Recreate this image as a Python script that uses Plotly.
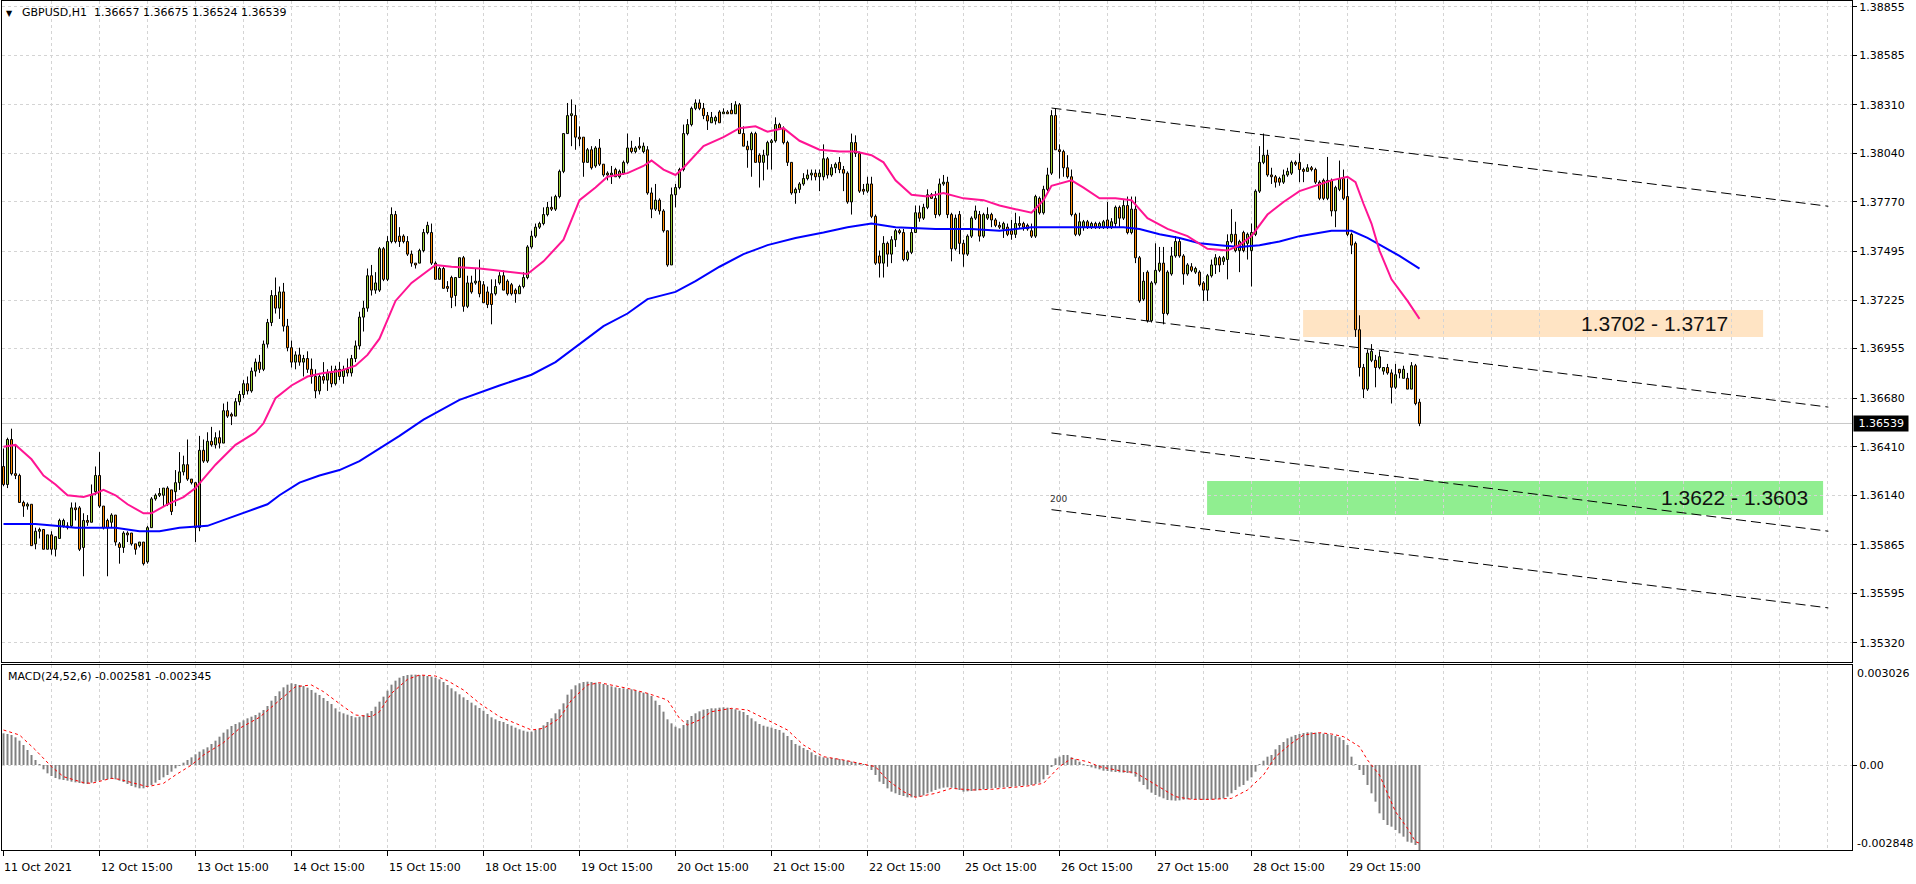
import plotly.graph_objects as go

# ---------------- data ----------------
opens = [
1.3630,1.3620,1.3645,1.3626,1.3625,1.3610,1.3608,1.3609,1.3587,1.3594,
1.3595,1.3584,1.3592,1.3584,1.3590,1.3597,1.3597,1.3597,1.3607,1.3607,
1.3585,1.3600,1.3599,1.3616,1.3625,1.3608,1.3600,1.3599,1.3603,1.3587,
1.3585,1.3593,1.3593,1.3587,1.3586,1.3588,1.3577,1.3596,1.3612,1.3614,
1.3614,1.3618,1.3617,1.3616,1.3621,1.3627,1.3631,1.3623,1.3621,1.3596,
1.3639,1.3633,1.3644,1.3642,1.3646,1.3643,1.3661,1.3659,1.3658,1.3666,
1.3670,1.3676,1.3672,1.3683,1.3688,1.3684,1.3698,1.3710,1.3725,1.3718,
1.3727,1.3708,1.3696,1.3688,1.3692,1.3688,1.3690,1.3684,1.3680,1.3672,
1.3680,1.3678,1.3682,1.3676,1.3684,1.3680,1.3684,1.3682,1.3690,1.3697,
1.3713,1.3718,1.3736,1.3728,1.3728,1.3751,1.3734,1.3755,1.3770,1.3758,
1.3758,1.3755,1.3748,1.3743,1.3743,1.3750,1.3760,1.3760,1.3743,1.3734,
1.3740,1.3730,1.3735,1.3725,1.3735,1.3746,1.3719,1.3732,1.3732,1.3733,
1.3731,1.3727,1.3726,1.3726,1.3732,1.3736,1.3733,1.3731,1.3728,1.3726,
1.3730,1.3735,1.3752,1.3758,1.3763,1.3765,1.3770,1.3774,1.3773,1.3780,
1.3794,1.3815,1.3825,1.3825,1.3813,1.3813,1.3799,1.3806,1.3797,1.3807,
1.3798,1.3793,1.3792,1.3795,1.3791,1.3793,1.3799,1.3807,1.3805,1.3808,
1.3805,1.3806,1.3782,1.3773,1.3778,1.3772,1.3761,1.3742,1.3781,1.3785,
1.3795,1.3815,1.3820,1.3829,1.3832,1.3829,1.3825,1.3821,1.3822,1.3827,
1.3826,1.3827,1.3828,1.3826,1.3831,1.3815,1.3808,1.3806,1.3815,1.3803,
1.3799,1.3803,1.3810,1.3811,1.3820,1.3818,1.3810,1.3799,1.3782,1.3784,
1.3787,1.3790,1.3792,1.3793,1.3791,1.3791,1.3801,1.3792,1.3796,1.3799,
1.3795,1.3793,1.3777,1.3810,1.3804,1.3784,1.3783,1.3787,1.3769,1.3747,
1.3743,1.3754,1.3748,1.3756,1.3761,1.3760,1.3745,1.3749,1.3760,1.3771,
1.3768,1.3774,1.3781,1.3779,1.3770,1.3787,1.3788,1.3770,1.3751,1.3770,
1.3754,1.3748,1.3758,1.3768,1.3770,1.3758,1.3768,1.3770,1.3767,1.3764,
1.3762,1.3763,1.3761,1.3759,1.3765,1.3765,1.3764,1.3761,1.3758,1.3779,
1.3771,1.3784,1.3793,1.3825,1.3806,1.3805,1.3796,1.3791,1.3770,1.3759,
1.3763,1.3766,1.3763,1.3765,1.3763,1.3763,1.3767,1.3763,1.3765,1.3774,
1.3768,1.3775,1.3760,1.3773,1.3746,1.3723,1.3738,1.3711,1.3732,1.3739,
1.3743,1.3715,1.3737,1.3747,1.3755,1.3747,1.3737,1.3741,1.3738,1.3738,
1.3732,1.3728,1.3736,1.3742,1.3746,1.3744,1.3745,1.3755,1.3759,1.3750,
1.3760,1.3754,1.3750,1.3759,1.3783,1.3799,1.3803,1.3792,1.3791,1.3790,
1.3788,1.3792,1.3793,1.3799,1.3799,1.3795,1.3794,1.3796,1.3795,1.3788,
1.3789,1.3779,1.3789,1.3772,1.3784,1.3790,1.3780,1.3759,1.3754,1.3706,
1.3685,1.3673,1.3689,1.3689,1.3685,1.3683,1.3685,1.3682,1.3674,1.3684,
1.3679,1.3679,1.3673,1.3686,1.36657]

highs = [
1.3640,1.3646,1.3651,1.3642,1.3626,1.3611,1.3610,1.3609,1.3596,1.3596,
1.3595,1.3592,1.3594,1.3591,1.3601,1.3601,1.3599,1.3610,1.3610,1.3608,
1.3604,1.3603,1.3620,1.3630,1.3638,1.3608,1.3601,1.3604,1.3603,1.3588,
1.3594,1.3594,1.3593,1.3587,1.3588,1.3588,1.3597,1.3613,1.3615,1.3618,
1.3618,1.3619,1.3617,1.3628,1.3638,1.3636,1.3645,1.3623,1.3621,1.3647,
1.3645,1.3649,1.3652,1.3649,1.3650,1.3665,1.3666,1.3660,1.3668,1.3672,
1.3678,1.3680,1.3685,1.3690,1.3692,1.3700,1.3712,1.3728,1.3735,1.3730,
1.3732,1.3712,1.3700,1.3694,1.3696,1.3692,1.3694,1.3690,1.3684,1.3682,
1.3688,1.3684,1.3686,1.3686,1.3688,1.3686,1.3690,1.3692,1.3700,1.3716,
1.3722,1.3740,1.3742,1.3738,1.3752,1.3752,1.3758,1.3774,1.3772,1.3763,
1.3759,1.3758,1.3750,1.3743,1.3751,1.3762,1.3766,1.3765,1.3744,1.3741,
1.3741,1.3733,1.3736,1.3735,1.3746,1.3747,1.3736,1.3736,1.3740,1.3745,
1.3733,1.3730,1.3734,1.3734,1.3738,1.3739,1.3734,1.3732,1.3729,1.3731,
1.3738,1.3753,1.3761,1.3765,1.3766,1.3774,1.3777,1.3780,1.3781,1.3795,
1.3815,1.3832,1.3834,1.3831,1.3819,1.3813,1.3807,1.3808,1.3808,1.3812,
1.3798,1.3794,1.3797,1.3796,1.3795,1.3800,1.3815,1.3811,1.3808,1.3813,
1.3810,1.3808,1.3785,1.3787,1.3779,1.3773,1.3761,1.3785,1.3787,1.3796,
1.3820,1.3823,1.3830,1.3834,1.3834,1.3832,1.3827,1.3827,1.3825,1.3828,
1.3829,1.3828,1.3832,1.3833,1.3832,1.3819,1.3811,1.3816,1.3816,1.3804,
1.3806,1.3811,1.3812,1.3824,1.3821,1.3819,1.3811,1.3799,1.3785,1.3788,
1.3793,1.3795,1.3795,1.3795,1.3795,1.3809,1.3802,1.3798,1.3799,1.3802,
1.3797,1.3794,1.3815,1.3814,1.3805,1.3787,1.3791,1.3791,1.3770,1.3750,
1.3758,1.3755,1.3758,1.3762,1.3762,1.3762,1.3750,1.3763,1.3775,1.3775,
1.3776,1.3784,1.3782,1.3783,1.3790,1.3792,1.3791,1.3771,1.3770,1.3772,
1.3756,1.3759,1.3769,1.3775,1.3772,1.3771,1.3774,1.3771,1.3768,1.3766,
1.3766,1.3765,1.3767,1.3771,1.3769,1.3766,1.3765,1.3765,1.3781,1.3780,
1.3786,1.3796,1.3828,1.3829,1.3809,1.3806,1.3803,1.3795,1.3771,1.3771,
1.3767,1.3767,1.3766,1.3766,1.3766,1.3767,1.3777,1.3768,1.3775,1.3775,
1.3778,1.3780,1.3780,1.3780,1.3747,1.3738,1.3739,1.3733,1.3754,1.3752,
1.3752,1.3739,1.3752,1.3758,1.3757,1.3748,1.3743,1.3743,1.3741,1.3739,
1.3733,1.3737,1.3745,1.3748,1.3747,1.3747,1.3759,1.3773,1.3766,1.3756,
1.3761,1.3760,1.3765,1.3784,1.3808,1.3815,1.3806,1.3796,1.3792,1.3791,
1.3795,1.3796,1.3800,1.3800,1.3804,1.3796,1.3798,1.3797,1.3796,1.3789,
1.3790,1.3802,1.3790,1.3786,1.3800,1.3795,1.3790,1.3760,1.3755,1.3714,
1.3687,1.3695,1.3698,1.3692,1.3694,1.3685,1.3687,1.3684,1.3687,1.3684,
1.3686,1.3682,1.3688,1.3687,1.36675]

lows = [
1.3619,1.3618,1.3625,1.3623,1.3610,1.3602,1.3606,1.3586,1.3584,1.3590,
1.3584,1.3584,1.3581,1.3580,1.3590,1.3596,1.3595,1.3596,1.3600,1.3583,
1.3569,1.3597,1.3599,1.3614,1.3607,1.3595,1.3569,1.3596,1.3586,1.3576,
1.3582,1.3588,1.3586,1.3581,1.3585,1.3575,1.3576,1.3596,1.3611,1.3613,
1.3608,1.3608,1.3603,1.3608,1.3617,1.3625,1.3622,1.3620,1.3588,1.3594,
1.3632,1.3632,1.3641,1.3640,1.3640,1.3643,1.3657,1.3653,1.3658,1.3664,
1.3668,1.3670,1.3671,1.3680,1.3682,1.3683,1.3696,1.3708,1.3715,1.3712,
1.3705,1.3694,1.3685,1.3684,1.3686,1.3680,1.3682,1.3676,1.3668,1.3670,
1.3676,1.3672,1.3674,1.3675,1.3678,1.3676,1.3680,1.3680,1.3688,1.3695,
1.3705,1.3716,1.3725,1.3726,1.3727,1.3733,1.3733,1.3754,1.3754,1.3752,
1.3754,1.3747,1.3741,1.3740,1.3743,1.3749,1.3759,1.3742,1.3734,1.3734,
1.3729,1.3727,1.3718,1.3719,1.3735,1.3716,1.3718,1.3726,1.3731,1.3724,
1.3721,1.3718,1.3709,1.3725,1.3731,1.3728,1.3725,1.3725,1.3721,1.3726,
1.3729,1.3734,1.3751,1.3757,1.3762,1.3764,1.3769,1.3772,1.3772,1.3779,
1.3793,1.3815,1.3808,1.3806,1.3808,1.3791,1.3799,1.3795,1.3796,1.3797,
1.3791,1.3789,1.3787,1.3791,1.3790,1.3792,1.3798,1.3804,1.3804,1.3806,
1.3804,1.3781,1.3768,1.3772,1.3770,1.3760,1.3741,1.3742,1.3774,1.3784,
1.3794,1.3814,1.3819,1.3828,1.3828,1.3823,1.3817,1.3821,1.3820,1.3821,
1.3826,1.3826,1.3826,1.3826,1.3815,1.3808,1.3796,1.3791,1.3799,1.3785,
1.3789,1.3795,1.3795,1.3810,1.3817,1.3809,1.3797,1.3781,1.3776,1.3782,
1.3786,1.3789,1.3789,1.3789,1.3783,1.3789,1.3790,1.3791,1.3793,1.3793,
1.3783,1.3776,1.3770,1.3802,1.3782,1.3781,1.3782,1.3768,1.3742,1.3735,
1.3735,1.3741,1.3743,1.3752,1.3759,1.3744,1.3744,1.3748,1.3760,1.3766,
1.3767,1.3773,1.3779,1.3768,1.3769,1.3786,1.3768,1.3744,1.3750,1.3748,
1.3741,1.3747,1.3757,1.3767,1.3755,1.3757,1.3767,1.3763,1.3763,1.3762,
1.3757,1.3758,1.3756,1.3757,1.3762,1.3761,1.3761,1.3757,1.3757,1.3770,
1.3770,1.3783,1.3792,1.3806,1.3790,1.3791,1.3790,1.3769,1.3758,1.3758,
1.3761,1.3762,1.3762,1.3762,1.3762,1.3762,1.3762,1.3762,1.3763,1.3763,
1.3767,1.3759,1.3759,1.3743,1.3721,1.3722,1.3710,1.3710,1.3731,1.3738,
1.3709,1.3714,1.3736,1.3746,1.3746,1.3731,1.3736,1.3738,1.3737,1.3730,
1.3722,1.3722,1.3735,1.3737,1.3738,1.3742,1.3734,1.3754,1.3749,1.3738,
1.3749,1.3745,1.3730,1.3758,1.3782,1.3798,1.3791,1.3787,1.3785,1.3786,
1.3787,1.3791,1.3792,1.3797,1.3788,1.3788,1.3794,1.3794,1.3787,1.3778,
1.3778,1.3778,1.3769,1.3763,1.3783,1.3778,1.3758,1.3748,1.3702,1.3680,
1.3668,1.3672,1.3688,1.3674,1.3684,1.3681,1.3681,1.3665,1.3673,1.3679,
1.3679,1.3673,1.3673,1.3664,1.36524]

closes = [
1.3620,1.3645,1.3626,1.3625,1.3610,1.3608,1.3609,1.3586,1.3594,1.3595,
1.3584,1.3592,1.3584,1.3591,1.3600,1.3600,1.3596,1.3607,1.3606,1.3584,
1.3600,1.3599,1.3614,1.3625,1.3608,1.3596,1.3596,1.3603,1.3588,1.3585,
1.3593,1.3592,1.3587,1.3584,1.3588,1.3576,1.3596,1.3612,1.3614,1.3615,
1.3618,1.3609,1.3605,1.3621,1.3627,1.3631,1.3623,1.3621,1.3596,1.3639,
1.3633,1.3644,1.3642,1.3646,1.3643,1.3661,1.3658,1.3658,1.3666,1.3670,
1.3676,1.3672,1.3683,1.3688,1.3684,1.3698,1.3710,1.3725,1.3718,1.3727,
1.3708,1.3696,1.3688,1.3692,1.3688,1.3690,1.3684,1.3680,1.3672,1.3680,
1.3678,1.3682,1.3676,1.3684,1.3680,1.3684,1.3682,1.3690,1.3697,1.3713,
1.3718,1.3736,1.3728,1.3732,1.3751,1.3734,1.3755,1.3770,1.3755,1.3755,
1.3755,1.3748,1.3743,1.3742,1.3750,1.3760,1.3764,1.3743,1.3734,1.3740,
1.3729,1.3729,1.3724,1.3735,1.3746,1.3719,1.3732,1.3727,1.3733,1.3726,
1.3721,1.3720,1.3720,1.3730,1.3736,1.3728,1.3726,1.3726,1.3726,1.3730,
1.3735,1.3752,1.3758,1.3763,1.3765,1.3770,1.3774,1.3773,1.3780,1.3794,
1.3815,1.3825,1.3826,1.3813,1.3812,1.3799,1.3806,1.3796,1.3807,1.3798,
1.3792,1.3792,1.3793,1.3791,1.3794,1.3799,1.3807,1.3805,1.3807,1.3807,
1.3808,1.3782,1.3773,1.3778,1.3772,1.3761,1.3742,1.3781,1.3785,1.3795,
1.3815,1.3820,1.3829,1.3832,1.3829,1.3825,1.3822,1.3824,1.3824,1.3821,
1.3827,1.3826,1.3826,1.3831,1.3815,1.3808,1.3806,1.3815,1.3799,1.3799,
1.3803,1.3810,1.3811,1.3820,1.3818,1.3810,1.3799,1.3782,1.3784,1.3787,
1.3790,1.3792,1.3793,1.3791,1.3793,1.3801,1.3792,1.3796,1.3798,1.3795,
1.3793,1.3777,1.3810,1.3804,1.3783,1.3783,1.3787,1.3769,1.3743,1.3743,
1.3754,1.3748,1.3756,1.3761,1.3760,1.3745,1.3749,1.3760,1.3771,1.3768,
1.3774,1.3781,1.3779,1.3770,1.3787,1.3788,1.3770,1.3751,1.3768,1.3754,
1.3748,1.3758,1.3768,1.3772,1.3758,1.3770,1.3770,1.3767,1.3764,1.3763,
1.3765,1.3759,1.3759,1.3765,1.3764,1.3763,1.3762,1.3758,1.3780,1.3771,
1.3784,1.3792,1.3825,1.3806,1.3805,1.3796,1.3791,1.3770,1.3759,1.3766,
1.3766,1.3763,1.3765,1.3763,1.3765,1.3766,1.3763,1.3766,1.3774,1.3768,
1.3775,1.3760,1.3773,1.3746,1.3722,1.3733,1.3711,1.3732,1.3739,1.3743,
1.3715,1.3738,1.3747,1.3755,1.3747,1.3737,1.3742,1.3739,1.3740,1.3731,
1.3728,1.3736,1.3742,1.3746,1.3742,1.3746,1.3755,1.3759,1.3750,1.3755,
1.3750,1.3759,1.3760,1.3783,1.3799,1.3803,1.3792,1.3791,1.3788,1.3788,
1.3792,1.3794,1.3799,1.3798,1.3795,1.3794,1.3796,1.3795,1.3788,1.3779,
1.3779,1.3789,1.3772,1.3785,1.3790,1.3779,1.3759,1.3753,1.3706,1.3685,
1.3673,1.3693,1.3694,1.3685,1.3691,1.3685,1.3682,1.3674,1.3681,1.3682,
1.3684,1.3673,1.3686,1.3665,1.36539]

# pink fast moving average, read at sample bars
ma_fast_x = [0,3,4,7,10,13,16,20,23,25,28,31,35,37,41,45,48,50,53,58,63,65,68,72,76,80,84,88,91,94,
             98,102,108,112,119,123,127,131,135,140,144,148,151,156,160,162,165,168,170,175,180,184,188,191,195,
             199,204,209,213,217,220,223,227,231,235,240,245,249,253,257,260,262,267,270,274,278,282,286,291,296,
             301,306,309,312,316,320,324,329,332,336,338,340,342,344,347,351,354]
ma_fast_y = [1.3641,1.3642,1.3640,1.3634,1.3625,1.3620,1.3614,1.3613,1.3615,1.3617,1.3614,1.3609,1.3604,1.3604,1.3609,
             1.3613,1.3618,1.3623,1.3631,1.3642,1.3649,1.3654,1.3668,1.3675,1.3680,1.3682,1.3683,1.3686,1.3692,1.3701,
             1.3722,1.3732,1.3742,1.3741,1.3740,1.3739,1.3738,1.3737,1.3744,1.3756,1.3778,1.3785,1.3791,1.3793,1.3797,
             1.3800,1.3795,1.3792,1.3796,1.3808,1.3813,1.3818,1.3819,1.3816,1.3818,1.3811,1.3806,1.3805,1.3805,1.3803,
             1.3799,1.3789,1.3781,1.3780,1.3782,1.3779,1.3778,1.3775,1.3773,1.3771,1.3778,1.3786,1.3789,1.3785,1.3779,
             1.3779,1.3778,1.3768,1.3762,1.3758,1.3751,1.3750,1.3753,1.3758,1.3770,1.3777,1.3783,1.3787,1.3789,1.3791,
             1.3788,1.3776,1.3765,1.3750,1.3734,1.3722,1.3712]

# blue slow moving average, read at sample bars
ma_slow_x = [0,3,8,13,18,24,28,34,39,44,51,56,61,66,69,74,79,84,89,94,99,105,114,124,132,138,144,150,156,161,
             168,173,179,185,191,198,205,211,217,223,233,242,249,257,264,270,280,284,289,294,299,304,309,314,319,
             324,329,332,337,341,345,349,354]
ma_slow_y = [1.3598,1.3598,1.3598,1.3597,1.3596,1.3596,1.3596,1.3594,1.3594,1.3596,1.3597,1.3601,1.3605,1.3609,1.3614,
             1.3621,1.3625,1.3628,1.3633,1.3640,1.3647,1.3656,1.3667,1.3675,1.3681,1.3688,1.3698,1.3708,1.3715,1.3723,
             1.3727,1.3733,1.3741,1.3748,1.3753,1.3757,1.3760,1.3763,1.3765,1.3763,1.3762,1.3762,1.3761,1.3763,1.3763,
             1.3763,1.3763,1.3762,1.3759,1.3757,1.3754,1.3753,1.3752,1.3753,1.3755,1.3758,1.3760,1.3761,1.3761,1.3757,
             1.3752,1.3747,1.3740]

# MACD(24,52,6) main histogram, one value per bar
macd_main = [
0.00095,0.00093,0.00090,0.00083,0.00073,0.00060,0.00045,0.00030,0.00015,0.00001,
-0.00013,-0.00025,-0.00033,-0.00039,-0.00043,-0.00045,-0.00047,-0.00050,-0.00052,-0.00054,
-0.00056,-0.00057,-0.00053,-0.00050,-0.00047,-0.00045,-0.00043,-0.00042,-0.00043,-0.00047,
-0.00051,-0.00057,-0.00063,-0.00067,-0.00070,-0.00070,-0.00065,-0.00060,-0.00053,-0.00045,
-0.00037,-0.00030,-0.00020,-0.00010,-0.00003,0.00007,0.00015,0.00023,0.00032,0.00040,
0.00047,0.00053,0.00063,0.00073,0.00085,0.00097,0.00107,0.00117,0.00123,0.00128,
0.00134,0.00140,0.00145,0.00150,0.00157,0.00165,0.00177,0.00193,0.00207,0.00221,
0.00233,0.00241,0.00245,0.00243,0.00240,0.00237,0.00232,0.00225,0.00217,0.00210,
0.00201,0.00192,0.00183,0.00170,0.00160,0.00155,0.00151,0.00147,0.00143,0.00145,
0.00149,0.00155,0.00162,0.00175,0.00190,0.00205,0.00223,0.00241,0.00253,0.00262,
0.00267,0.00270,0.00271,0.00271,0.00270,0.00269,0.00267,0.00265,0.00262,0.00257,
0.00249,0.00240,0.00230,0.00221,0.00212,0.00203,0.00195,0.00187,0.00179,0.00171,
0.00163,0.00153,0.00143,0.00137,0.00132,0.00129,0.00123,0.00118,0.00112,0.00107,
0.00103,0.00100,0.00100,0.00105,0.00110,0.00119,0.00129,0.00140,0.00155,0.00167,
0.00185,0.00211,0.00227,0.00239,0.00245,0.00249,0.00250,0.00249,0.00247,0.00245,
0.00243,0.00240,0.00236,0.00233,0.00231,0.00230,0.00228,0.00227,0.00224,0.00220,
0.00217,0.00215,0.00207,0.00193,0.00180,0.00160,0.00137,0.00125,0.00115,0.00110,
0.00120,0.00135,0.00147,0.00155,0.00161,0.00166,0.00168,0.00170,0.00170,0.00172,
0.00173,0.00172,0.00170,0.00167,0.00163,0.00159,0.00150,0.00140,0.00131,0.00123,
0.00118,0.00115,0.00112,0.00108,0.00105,0.00097,0.00087,0.00075,0.00063,0.00058,
0.00051,0.00045,0.00038,0.00030,0.00026,0.00023,0.00022,0.00021,0.00020,0.00018,
0.00015,0.00013,0.00010,0.00009,0.00006,0.00003,-0.00003,-0.00015,-0.00030,-0.00050,
-0.00057,-0.00070,-0.00080,-0.00085,-0.00090,-0.00093,-0.00097,-0.00097,-0.00096,-0.00095,
-0.00091,-0.00085,-0.00080,-0.00075,-0.00071,-0.00068,-0.00067,-0.00068,-0.00071,-0.00075,
-0.00080,-0.00079,-0.00078,-0.00077,-0.00075,-0.00073,-0.00072,-0.00070,-0.00069,-0.00068,
-0.00067,-0.00066,-0.00065,-0.00064,-0.00063,-0.00062,-0.00061,-0.00060,-0.00057,-0.00053,
-0.00043,-0.00030,-0.00005,0.00020,0.00025,0.00030,0.00030,0.00023,0.00017,0.00010,
0.00003,-0.00003,-0.00007,-0.00010,-0.00013,-0.00017,-0.00018,-0.00020,-0.00021,-0.00022,
-0.00023,-0.00024,-0.00025,-0.00035,-0.00050,-0.00060,-0.00073,-0.00083,-0.00090,-0.00095,
-0.00100,-0.00105,-0.00106,-0.00107,-0.00106,-0.00104,-0.00103,-0.00103,-0.00103,-0.00104,
-0.00105,-0.00105,-0.00104,-0.00103,-0.00102,-0.00100,-0.00095,-0.00085,-0.00075,-0.00065,
-0.00060,-0.00047,-0.00037,-0.00020,0.00001,0.00013,0.00025,0.00030,0.00047,0.00060,
0.00069,0.00080,0.00085,0.00090,0.00093,0.00096,0.00098,0.00098,0.00097,0.00096,
0.00094,0.00093,0.00090,0.00087,0.00083,0.00075,0.00060,0.00025,0.00001,-0.00015,
-0.00030,-0.00060,-0.00085,-0.00110,-0.00145,-0.00165,-0.00180,-0.00185,-0.00195,-0.00205,
-0.00215,-0.00230,-0.00233,-0.00240,-0.002581]

# MACD signal line, read at sample bars
sig_x = [0,4,8,12,15,20,22,27,29,34,36,40,43,47,50,55,59,64,68,73,77,80,85,88,92,94,97,101,104,108,
         111,115,119,124,129,132,135,139,142,146,149,153,156,161,166,169,171,174,177,182,186,191,196,200,205,
         210,214,218,221,225,228,233,237,242,247,251,256,260,264,267,271,274,279,283,288,293,297,302,307,311,
         315,318,322,325,329,332,335,339,341,344,346,348,351,353,354]
sig_y = [0.00105,0.00090,0.00045,-0.00005,-0.00035,-0.00053,-0.00055,-0.00040,-0.00043,-0.00060,
         -0.00065,-0.00055,-0.00030,0.0,0.00030,0.00067,0.00110,0.00143,0.00185,0.00235,
         0.00240,0.00220,0.00175,0.00150,0.00145,0.00160,0.00215,0.00257,0.00270,0.00267,
         0.00253,0.00225,0.00185,0.00145,0.00120,0.00105,0.00110,0.00140,0.00195,0.00240,
         0.00247,0.00237,0.00230,0.00215,0.00195,0.00140,0.00120,0.00135,0.00160,0.00170,
         0.00165,0.00135,0.00105,0.00060,0.00025,0.00015,0.00005,-0.00005,-0.00045,-0.00080,
         -0.00097,-0.00085,-0.00070,-0.00075,-0.00073,-0.00068,-0.00063,-0.00055,-0.00005,0.00020,
         0.00010,-0.00005,-0.00017,-0.00023,-0.00060,-0.00095,-0.00103,-0.00103,-0.00100,-0.00075,
         -0.00030,0.00025,0.00065,0.00090,0.00097,0.00093,0.00085,0.00055,0.00015,-0.00030,
         -0.00085,-0.00140,-0.00190,-0.00230,-0.002345]

date_labels = ["11 Oct 2021", "12 Oct 15:00", "13 Oct 15:00", "14 Oct 15:00", "15 Oct 15:00",
               "18 Oct 15:00", "19 Oct 15:00", "20 Oct 15:00", "21 Oct 15:00", "22 Oct 15:00",
               "25 Oct 15:00", "26 Oct 15:00", "27 Oct 15:00", "28 Oct 15:00", "29 Oct 15:00"]
date_label_bars = [0, 24, 48, 72, 96, 120, 144, 168, 192, 216, 240, 264, 288, 312, 336]

price_ticks = [1.38855, 1.38585, 1.38310, 1.38040, 1.37770, 1.37495, 1.37225,
               1.36955, 1.36680, 1.36410, 1.36140, 1.35865, 1.35595, 1.35320]
last_price = 1.36539

# support / resistance zones
zone_low = [1.3702, 1.3603]
zone_high = [1.3717, 1.3622]
zone_start = [324.9, 300.9]
zone_end = [439.9, 454.9]
zone_text = ["1.3702 - 1.3717", "1.3622 - 1.3603"]
zone_text_bar = [431.5, 451.5]
zone_color = ["#FFE4C4", "#90EE90"]

# Fibonacci channel: zero line at two bars, width of 100% level, levels
fib_bars = [262.0, 456.2]
fib_zero = [1.38292, 1.37746]
fib_unit = 0.01116
fib_levels = [0, 100, 161.8, 200]

title_text = "GBPUSD,H1\u00a0 1.36657 1.36675 1.36524 1.36539"
macd_text = "MACD(24,52,6) -0.002581 -0.002345"
macd_max_label = "0.003026"
macd_min_label = "-0.002848"

# ---------------- figure ----------------
FONT = "DejaVu Sans"
GRID = "#D4D4D4"
GDASH = "3px,3px"
W, H = 1916, 884
ML, MR, MT, MB = 2, 64, 1, 34
PW = W - ML - MR
PH = H - MT - MB

def px_x(px):
    return (px - ML) / PW

def px_y(py):
    return (H - MB - py) / PH

main_dom = [px_y(662), 1.0]
macd_dom = [0.0, px_y(665)]
xr = [(ML - 3.5) / 4.0, (ML + PW - 3.5) / 4.0]

n = len(opens)
idx = list(range(n))
up = [i for i in idx if closes[i] >= opens[i]]
dn = [i for i in idx if closes[i] < opens[i]]

fig = go.Figure()

# wicks (outside the bodies)
wx, wy = [], []
for i in idx:
    top = max(opens[i], closes[i])
    bot = min(opens[i], closes[i])
    if highs[i] > top:
        wx += [i, i, None]
        wy += [highs[i], top, None]
    if lows[i] < bot:
        wx += [i, i, None]
        wy += [bot, lows[i], None]

fig.add_trace(go.Bar(x=up, y=[closes[i] - opens[i] for i in up], base=[opens[i] for i in up],
                     width=0.5, marker=dict(color="#9ACD32", line=dict(color="black", width=1)),
                     xaxis="x", yaxis="y", hoverinfo="skip"))
fig.add_trace(go.Bar(x=dn, y=[opens[i] - closes[i] for i in dn], base=[closes[i] for i in dn],
                     width=0.5, marker=dict(color="#FF8C00", line=dict(color="black", width=1)),
                     xaxis="x", yaxis="y", hoverinfo="skip"))
fig.add_trace(go.Scatter(x=wx, y=wy, mode="lines", line=dict(color="black", width=1),
                         xaxis="x", yaxis="y", hoverinfo="skip"))

# Fibonacci channel lines
for lv in fib_levels:
    fig.add_trace(go.Scatter(x=fib_bars, y=[fib_zero[0] - lv / 100 * fib_unit, fib_zero[1] - lv / 100 * fib_unit],
                             mode="lines", line=dict(color="black", width=1, dash="10px,5px"),
                             xaxis="x", yaxis="y", hoverinfo="skip"))

# moving averages
fig.add_trace(go.Scatter(x=ma_slow_x, y=ma_slow_y, mode="lines", line=dict(color="#0000FF", width=2),
                         xaxis="x", yaxis="y", hoverinfo="skip"))
fig.add_trace(go.Scatter(x=ma_fast_x, y=ma_fast_y, mode="lines", line=dict(color="#FF1493", width=2),
                         xaxis="x", yaxis="y", hoverinfo="skip"))

# MACD
fig.add_trace(go.Bar(x=idx, y=macd_main, width=0.5, marker=dict(color="#808080", line=dict(width=0)),
                     xaxis="x2", yaxis="y2", hoverinfo="skip"))
fig.add_trace(go.Scatter(x=sig_x, y=sig_y, mode="lines", line=dict(color="#FF0000", width=1, dash="dot"),
                         xaxis="x2", yaxis="y2", hoverinfo="skip"))

shapes = []
for k in range(len(zone_low)):
    shapes.append(dict(type="rect", xref="x", yref="y", x0=zone_start[k], x1=zone_end[k],
                       y0=zone_low[k], y1=zone_high[k], fillcolor=zone_color[k],
                       line=dict(width=0), layer="below"))
shapes.append(dict(type="line", xref="paper", yref="y", x0=0, x1=1, y0=last_price, y1=last_price,
                   line=dict(color="#C8C8C8", width=1), layer="below"))

annotations = []
for k in range(len(zone_low)):
    annotations.append(dict(x=zone_text_bar[k], y=(zone_low[k] + zone_high[k]) / 2, xref="x", yref="y",
                            text=zone_text[k], showarrow=False, xanchor="right", yanchor="middle",
                            font=dict(family="Liberation Sans", size=21, color="#111111")))
annotations.append(dict(x=fib_bars[0] - 1, y=fib_zero[0] - 2 * fib_unit, xref="x", yref="y", text="200",
                        showarrow=False, xanchor="left", yanchor="bottom", yshift=4,
                        font=dict(family=FONT, size=9, color="#333333")))
annotations.append(dict(x=1, y=last_price, xref="paper", yref="y", text="\u00a0" + f"{last_price:.5f}" + "\u00a0",
                        showarrow=False, xanchor="left", yanchor="middle", xshift=1, bgcolor="black",
                        borderpad=1, font=dict(family=FONT, size=11, color="white")))
annotations.append(dict(x=px_x(9.5), y=px_y(14), xref="paper", yref="paper", text="\u25BC",
                        showarrow=False, xanchor="center", yanchor="middle",
                        font=dict(family=FONT, size=8, color="black")))
annotations.append(dict(x=px_x(20), y=px_y(13), xref="paper", yref="paper", text=title_text,
                        showarrow=False, xanchor="left", yanchor="middle",
                        font=dict(family=FONT, size=11, color="black")))
annotations.append(dict(x=px_x(5.5), y=px_y(676), xref="paper", yref="paper", text=macd_text,
                        showarrow=False, xanchor="left", yanchor="middle",
                        font=dict(family=FONT, size=11, color="black")))
annotations.append(dict(x=1, y=px_y(673), xref="paper", yref="paper", text=macd_max_label,
                        showarrow=False, xanchor="left", yanchor="middle", xshift=3,
                        font=dict(family=FONT, size=11, color="black")))
annotations.append(dict(x=1, y=px_y(843), xref="paper", yref="paper", text=macd_min_label,
                        showarrow=False, xanchor="left", yanchor="middle", xshift=3,
                        font=dict(family=FONT, size=11, color="black")))
for k, lab in enumerate(date_labels):
    if k == 0:
        annotations.append(dict(x=0, y=px_y(868), xref="paper", yref="paper", text=lab, showarrow=False,
                                xanchor="left", yanchor="middle", font=dict(family=FONT, size=11, color="black")))
    else:
        annotations.append(dict(x=date_label_bars[k], y=px_y(868), xref="x2", yref="paper", text=lab,
                                showarrow=False, xanchor="left", yanchor="middle", xshift=-1,
                                font=dict(family=FONT, size=11, color="black")))

grid_bars = list(range(12, 462, 12))

common_x = dict(range=xr, showticklabels=False, tickmode="array", tickvals=grid_bars, ticks="",
                showgrid=True, gridcolor=GRID, griddash=GDASH, gridwidth=1, zeroline=False,
                showline=True, linecolor="black", linewidth=1, mirror=True, fixedrange=True)

fig.update_layout(
    width=W, height=H, autosize=False,
    margin=dict(l=ML, r=MR, t=MT, b=MB, pad=0),
    paper_bgcolor="white", plot_bgcolor="white",
    showlegend=False, barmode="overlay", hovermode=False,
    font=dict(family=FONT, size=11, color="black"),
    xaxis=dict(domain=[0, 1], anchor="y", **common_x),
    xaxis2=dict(domain=[0, 1], anchor="y2", **common_x),
    xaxis3=dict(domain=[0, 1], anchor="y2", overlaying="x2", range=xr, showticklabels=False,
                tickmode="array", tickvals=date_label_bars, ticks="outside", ticklen=5,
                tickcolor="black", tickwidth=1, showgrid=False, zeroline=False, showline=False),
    yaxis=dict(domain=main_dom, anchor="x", side="right", range=[1.352135, 1.388867],
               tickmode="array", tickvals=price_ticks, ticktext=[f"{v:.5f}" for v in price_ticks],
               ticks="outside", ticklen=4, tickcolor="black", tickwidth=1,
               showgrid=True, gridcolor=GRID, griddash=GDASH, gridwidth=1, zeroline=False,
               showline=True, linecolor="black", linewidth=1, mirror=True,
               tickfont=dict(family=FONT, size=11, color="black")),
    yaxis2=dict(domain=macd_dom, anchor="x2", side="right", range=[-0.00255, 0.0030],
                tickmode="array", tickvals=[0], ticktext=["0.00"],
                ticks="outside", ticklen=4, tickcolor="black", tickwidth=1,
                showgrid=True, gridcolor=GRID, griddash=GDASH, gridwidth=1, zeroline=False,
                showline=True, linecolor="black", linewidth=1, mirror=True,
                tickfont=dict(family=FONT, size=11, color="black")),
    shapes=shapes, annotations=annotations,
)

# invisible trace to activate the tick-mark axis
fig.add_trace(go.Scatter(x=[date_label_bars[1]], y=[0], mode="markers", marker=dict(opacity=0, size=1),
                         xaxis="x3", yaxis="y2", hoverinfo="skip"))

fig.write_html("out.html", config={"displayModeBar": False},
               post_script="document.body.style.margin='0px';document.body.style.padding='0px';"
                           "document.body.style.overflow='hidden';")
